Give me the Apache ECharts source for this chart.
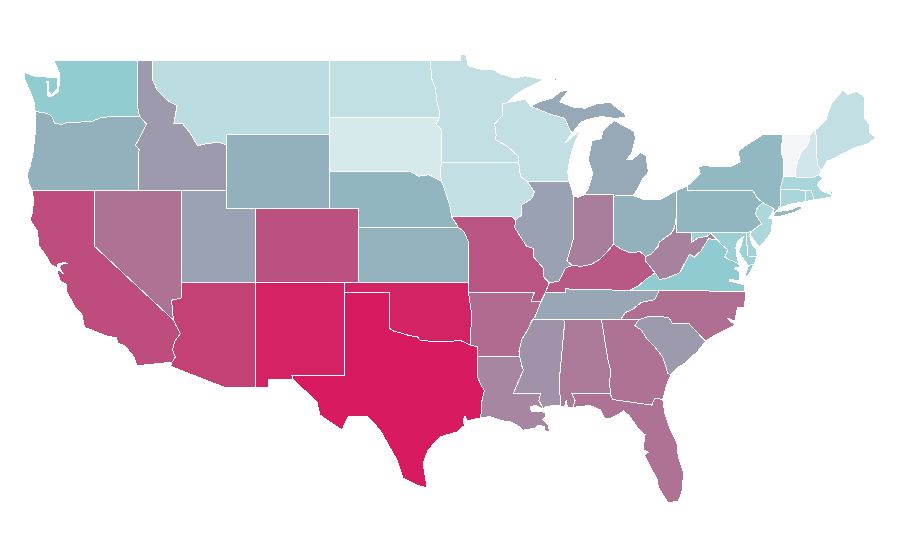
<!DOCTYPE html>
<html>
<head>
<meta charset="utf-8">
<title>US states</title>
<script src="https://cdn.jsdelivr.net/npm/echarts@6/dist/echarts.min.js"></script>
<style>
  html, body { margin: 0; padding: 0; background: #fff; }
  #main { width: 900px; height: 560px; }
  #main path { shape-rendering: crispEdges; }
</style>
</head>
<body>
<div id="main"></div>
<script>
const stateNames = ['Washington','Oregon','California','Idaho','Nevada','Utah','Arizona','Montana','Wyoming','Colorado','New Mexico',
  'North Dakota','South Dakota','Nebraska','Kansas','Oklahoma','Texas','Minnesota','Iowa','Missouri','Arkansas','Louisiana',
  'Wisconsin','Illinois','Michigan','Indiana','Ohio','Kentucky','Tennessee','Mississippi','Alabama','Georgia','Florida',
  'South Carolina','North Carolina','Virginia','West Virginia','Maryland','Delaware','Pennsylvania','New Jersey','New York',
  'Connecticut','Rhode Island','Massachusetts','Vermont','New Hampshire','Maine'];
const stateValues = [9.8,20,51,30,40,26,53,5.6,20,50,58.7,
  5,2.9,18,19.5,58.5,60,4.9,4.9,49,42,35,
  4.9,27,24,37,20,48,25,32,38,40,40,
  30,41,10,36,8.8,8,18,7,17,
  7.4,7.4,7.4,0,3.5,4.9];

// colour stops, evenly spaced over the value range
const colorStops = ['#f3f5f6','#8fcbd0','#93b1bc','#9d9aae','#ae7294','#bb5180','#d81b60'];

// outlines as "west-longitude latitude" pairs
const outlines = {
  'Washington': ['122.72 49,117.03 49,117.04 46.42,116.92 46,118.98 46,119.3 45.93,119.6 45.92,120.2 45.72,120.65 45.74,121.2 45.65,121.7 45.7,122.2 45.58,122.7 45.62,122.8 45.9,123 46.1,123.4 46.2,124 46.27,124.05 46.7,124.15 46.95,124.35 47.35,124.7 48,124.73 48.38,124 48.17,122.5 48.1,122.46 47.54,122.93 47.16,123.13 47.43,123.1 47.9,123.2 47.9,123.19 47.16,122.99 47.05,122.45 47.32,122.32 47.97,122.38 48.4'],
  'Oregon': ['124 46.27,123.4 46.2,123 46.1,122.8 45.9,122.7 45.62,122.2 45.58,121.7 45.7,121.2 45.65,120.65 45.74,120.2 45.72,119.6 45.92,119.3 45.93,118.98 46,116.92 46,116.46 45.6,116.85 44.95,117.2 44.45,116.95 44.2,117.03 43.8,117.03 42,124.21 42,124.4 42.3,124.55 42.85,124.35 43.3,124.15 44,124.05 44.7,123.95 45.5'],
  'California': ['124.21 42,120 42,120 39,114.63 35,114.45 34.7,114.15 34.27,114.5 33.9,114.7 33.4,114.5 33,114.72 32.72,117.12 32.53,117.3 33,117.9 33.6,118.4 33.75,118.5 34.03,119.2 34.15,120.2 34.47,120.65 34.6,120.85 35.35,121.3 35.7,121.9 36.6,121.9 36.95,122.3 37.1,122.5 37.6,122.4 37.7,122.1 37.5,122.35 37.85,122.2 38.02,121.75 38.05,122 38.1,122.45 38.05,122.52 37.83,122.95 38,123.2 38.4,123.75 39,123.85 39.8,124.35 40.4,124.2 40.8,124.1 41.5'],
  'Idaho': ['117.03 49,116.05 49,116.05 48,115.72 47.4,115 46.85,114.38 46.6,114.6 45.6,114 45.6,113.45 45.05,113 44.42,112.3 44.55,111.5 44.6,111.05 44.48,111.05 42,117.03 42,117.03 43.8,116.95 44.2,117.2 44.45,116.85 44.95,116.46 45.6,116.92 46,117.04 46.42'],
  'Nevada': ['120 42,114.05 42,114.05 36.2,114.75 36.07,114.63 35,120 39'],
  'Utah': ['114.05 42,111.05 42,111.05 41,109.05 41,109.05 37,114.05 37'],
  'Arizona': ['114.05 37,109.05 37,109.05 31.33,111.07 31.33,114.82 32.5,114.72 32.72,114.5 33,114.7 33.4,114.5 33.9,114.15 34.27,114.45 34.7,114.63 35,114.75 36.07,114.05 36.2'],
  'Montana': ['116.05 49,104.05 49,104.05 45,111.05 45,111.05 44.48,111.5 44.6,112.3 44.55,113 44.42,113.45 45.05,114 45.6,114.6 45.6,114.38 46.6,115 46.85,115.72 47.4,116.05 48'],
  'Wyoming': ['111.05 45,104.05 45,104.05 41,111.05 41'],
  'Colorado': ['109.05 41,102.05 41,102.05 37,109.05 37'],
  'New Mexico': ['109.05 37,103 37,103.05 32,106.6 32,106.53 31.78,108.2 31.78,108.2 31.33,109.05 31.33'],
  'North Dakota': ['104.05 49,97.23 49,97.1 48,96.85 47.5,96.8 46.9,96.6 46.3,96.56 45.94,104.05 45.94'],
  'South Dakota': ['104.05 45.94,96.56 45.94,96.85 45.6,96.45 45.3,96.45 43.5,96.55 43,96.45 42.5,97.3 42.85,98 42.77,98.5 43,104.05 43'],
  'Nebraska': ['104.05 43,98.5 43,98 42.77,97.3 42.85,96.45 42.5,96.1 41.7,95.9 41.2,95.77 40.58,95.3 40,102.05 40,102.05 41,104.05 41'],
  'Kansas': ['102.05 40,95.3 40,94.9 39.75,94.6 39.15,94.62 37,102.05 37'],
  'Oklahoma': ['103 37,94.62 37,94.62 36.5,94.43 35.39,94.48 33.64,95.2 33.9,95.8 33.85,96.6 33.85,97.2 33.85,97.9 33.9,98.1 34.1,98.6 34.15,99.2 34.3,99.7 34.4,100 34.56,100 36.5,103 36.5'],
  'Texas': ['103 36.5,100 36.5,100 34.56,99.7 34.4,99.2 34.3,98.6 34.15,98.1 34.1,97.9 33.9,97.2 33.85,96.6 33.85,95.8 33.85,95.2 33.9,94.48 33.64,94.04 33.55,94.04 33.02,94.04 32,93.8 31.5,93.55 31.2,93.75 30.5,93.72 30.05,93.85 29.7,94.72 29.55,94.85 29.8,95 29.6,94.9 29.3,95.4 28.95,96.55 28.68,97.37 27.97,97.7 27.27,97.43 25.92,98.2 26.1,99.06 26.46,99.47 27.43,100.62 29.05,101.44 29.76,102.8 29.76,103.2 29.05,104.69 29.86,104.9 30.57,106 31.4,106.53 31.78,106.6 32,103.05 32'],
  'Minnesota': ['97.23 49,95.15 49,95.15 49.38,94.8 49.32,94.65 48.75,93.8 48.55,93 48.55,92.4 48.3,91.5 48.07,90.8 48.2,89.5 48,90.5 47.6,91.3 47.25,92 46.75,92.3 46.68,92.29 46.08,92.85 45.6,92.75 45,92.8 44.75,92 44.4,91.25 43.85,91.22 43.5,96.45 43.5,96.45 45.3,96.85 45.6,96.56 45.94,96.6 46.3,96.8 46.9,96.85 47.5,97.1 48'],
  'Iowa': ['96.45 43.5,91.22 43.5,91.1 42.75,90.65 42.5,90.15 41.9,90.35 41.55,91.05 41.2,91 40.7,91.4 40.4,91.72 40.6,95.77 40.58,95.9 41.2,96.1 41.7,96.45 42.5,96.55 43'],
  'Missouri': ['95.77 40.58,91.72 40.6,91.4 40.4,91.5 40,91.1 39.5,90.7 39,90.2 38.85,90.2 38.4,89.55 37.8,89.5 37.3,89.15 37,89.4 36.5,89.7 36,90.37 36,90.15 36.5,94.62 36.5,94.62 37,94.6 39.15,94.9 39.75,95.3 40'],
  'Arkansas': ['94.62 36.5,90.15 36.5,90.37 36,89.7 36,89.95 35.5,90.1 35.2,90.3 35,90.6 34.5,91 33.95,91.2 33.3,91.15 33,94.04 33.02,94.04 33.55,94.48 33.64,94.43 35.39'],
  'Louisiana': ['94.04 33.02,91.15 33,91 32.5,90.9 32.3,91.6 31,89.73 31,89.85 30.65,89.55 30.2,90.1 30.38,90.45 30.3,90.35 30.05,90 30.03,89.7 30.05,89.4 30,89.4 29.8,89.6 29.6,89.2 29.3,89.15 29,89.4 28.95,89.5 29.25,89.9 29.3,90.1 29.15,90.9 29.05,91.3 29.3,91.8 29.5,92.3 29.55,93.2 29.78,93.85 29.7,93.72 30.05,93.75 30.5,93.55 31.2,93.8 31.5,94.04 32'],
  'Wisconsin': ['92.3 46.68,92 46.75,91.2 46.87,90.8 46.95,90.4 46.55,89.1 46.13,88.1 45.9,87.8 45.35,87.6 45.1,88.1 44.55,87.05 45.27,87.5 44.4,87.75 43.7,87.9 43,87.8 42.5,90.65 42.5,91.1 42.75,91.22 43.5,91.25 43.85,92 44.4,92.8 44.75,92.75 45,92.85 45.6,92.29 46.08'],
  'Illinois': ['90.65 42.5,87.8 42.5,87.55 41.9,87.53 41.7,87.53 39.35,87.95 38.2,87.6 37.95,88.05 37.8,88.5 37.1,89.15 37,89.5 37.3,89.55 37.8,90.2 38.4,90.2 38.85,90.7 39,91.1 39.5,91.5 40,91.4 40.4,91 40.7,91.05 41.2,90.35 41.55,90.15 41.9'],
  'Michigan': ['90.4 46.55,89.8 46.8,88.9 47,88.4 47.35,87.8 47.45,88.2 47.05,88.45 46.8,87.5 46.5,86.7 46.45,85.95 46.68,85 46.77,84.55 46.45,84.1 46.2,83.9 45.95,84.7 45.9,85.6 46,86.5 45.85,87 45.7,87.6 45.1,87.8 45.35,88.1 45.9,89.1 46.13',
    '84.8 41.76,86.8 41.76,86.5 42.1,86.2 42.9,86.5 43.65,86.25 44.7,85.6 44.8,85.55 45.2,85 45.6,84.75 45.78,84.1 45.5,83.4 45.2,83.3 44.85,83.55 44.05,83.9 43.65,83.5 43.7,82.95 44.05,82.6 43.9,82.42 43,82.85 42.6,83.15 42.1,83.45 41.72,84.8 41.7',
    '89.2 47.85,88.5 48.15,88.7 47.95'],
  'Indiana': ['87.53 41.7,87.2 41.63,86.8 41.76,84.8 41.76,84.8 41.7,84.8 39.1,85.2 38.7,85.7 38.3,86.3 38,87 37.9,87.6 37.95,87.95 38.2,87.53 39.35'],
  'Ohio': ['84.8 39.1,84.2 38.8,83.65 38.63,83 38.7,82.6 38.42,82.2 38.6,81.75 39,81.7 39.2,80.85 39.7,80.65 40,80.52 40.63,80.52 41.98,81.7 41.5,82.7 41.5,83.45 41.72,84.8 41.7'],
  'Kentucky': ['89.4 36.5,88.07 36.5,88.07 36.68,86.5 36.65,83.68 36.6,83.1 36.85,82.6 37.2,81.97 37.54,82.6 38.17,82.6 38.42,83 38.7,83.65 38.63,84.2 38.8,84.8 39.1,85.2 38.7,85.7 38.3,86.3 38,87 37.9,87.6 37.95,88.05 37.8,88.5 37.1,89.15 37'],
  'Tennessee': ['90.3 35,88.2 35,85.6 35,84.32 35,84 35.4,83.5 35.57,82.9 35.95,82 36.1,81.68 36.59,83.68 36.6,86.5 36.65,88.07 36.68,88.07 36.5,89.4 36.5,89.7 36,89.95 35.5,90.1 35.2'],
  'Mississippi': ['90.3 35,88.2 35,88.1 34.9,88.45 31.9,88.4 30.35,88.8 30.4,89.4 30.3,89.55 30.2,89.85 30.65,89.73 31,91.6 31,90.9 32.3,91 32.5,91.15 33,91.2 33.3,91 33.95,90.6 34.5'],
  'Alabama': ['88.2 35,85.6 35,85.18 32.87,85 32.3,85.05 31.55,85 31,87.6 31,87.4 30.65,87.52 30.28,87.9 30.25,88 30.65,88.1 30.35,88.4 30.35,88.45 31.9,88.1 34.9'],
  'Georgia': ['85.6 35,83.1 35,83.35 34.7,82.9 34.45,82.55 34,81.95 33.5,81.45 33,81.1 32.1,80.9 32.03,81.15 31.6,81.45 30.72,82 30.75,82.2 30.4,84.86 30.7,85 31,85.05 31.55,85 32.3,85.18 32.87'],
  'Florida': ['87.6 31,85 31,84.86 30.7,82.2 30.4,82 30.75,81.45 30.72,81.3 29.9,80.9 29,80.5 28.4,80.4 27.6,80.05 26.8,80.12 25.8,80.4 25.2,81.1 25.12,81.75 25.95,81.85 26.45,82.2 26.9,82.7 27.7,82.45 27.85,82.8 28,82.65 28.8,83.1 29.1,83.7 29.8,84.1 30.1,84.35 29.95,85.1 29.65,85.4 29.7,85.7 30.15,86.4 30.38,87.52 30.28,87.4 30.65'],
  'South Carolina': ['83.35 34.7,83.1 35,82.4 35.2,81.05 35.15,80.8 34.82,79.67 34.8,78.55 33.85,79.1 33.3,79.9 32.7,80.5 32.4,80.9 32.03,81.1 32.1,81.45 33,81.95 33.5,82.55 34,82.9 34.45'],
  'North Carolina': ['84.32 35,83.1 35,82.4 35.2,81.05 35.15,80.8 34.82,79.67 34.8,78.55 33.85,77.9 34.2,76.55 34.73,77.1 35.1,76.55 34.95,76.4 35.65,75.88 35.65,75.87 36.55,81.68 36.59,82 36.1,82.9 35.95,83.5 35.57,84 35.4'],
  'Virginia': ['83.68 36.6,81.68 36.59,75.87 36.55,75.95 36.9,76.9 37.1,76.9 37.2,76.25 37.1,76.25 37.6,76.6 37.8,76.25 37.85,76.3 38.05,76.9 38.25,77.25 38.4,77.05 38.8,77.5 39.1,77.72 39.32,78.35 39.4,78.85 38.75,79.3 38.4,79.65 38.55,80.3 37.55,81.22 37.25,81.68 37.2,81.97 37.54,82.6 37.2,83.1 36.85',
    '75.95 37.15,75.65 37.95,75.25 38.03,75.6 37.5'],
  'West Virginia': ['82.6 38.17,81.97 37.54,81.68 37.2,81.22 37.25,80.3 37.55,79.65 38.55,79.3 38.4,78.85 38.75,78.35 39.4,77.72 39.32,78.2 39.68,78.45 39.52,79.05 39.45,79.48 39.2,79.48 39.72,80.52 39.72,80.52 40.63,80.65 40,80.85 39.7,81.7 39.2,81.75 39,82.2 38.6,82.6 38.42'],
  'Maryland': ['79.48 39.72,75.79 39.72,75.7 38.46,75.05 38.45,75.25 38.03,75.65 37.95,75.95 38.25,76.3 38.7,76.15 39,76 39.5,76.4 39.25,76.5 38.9,76.4 38.3,76.3 38.05,76.9 38.25,77.25 38.4,77.05 38.8,77.5 39.1,77.72 39.32,78.2 39.68,78.45 39.52,79.05 39.45,79.48 39.2'],
  'Delaware': ['75.79 39.72,75.42 39.8,75.55 39.5,75.4 39.1,75.1 38.8,75.05 38.45,75.7 38.46'],
  'Pennsylvania': ['80.52 41.98,79.76 42.27,79.76 42,75.35 42,75.05 41.6,74.7 41.36,75.1 41,75.15 40.7,74.75 40.2,75.42 39.8,75.79 39.72,79.48 39.72,80.52 39.72,80.52 40.63'],
  'New Jersey': ['74.7 41.36,73.9 41,74.25 40.5,74 40.45,74.1 39.75,74.4 39.4,74.9 38.93,75.2 39.25,75.55 39.6,75.42 39.8,74.75 40.2,75.15 40.7,75.1 41'],
  'New York': ['79.76 42.27,79.76 42,75.35 42,75.05 41.6,74.7 41.36,73.9 41,74 40.7,73.65 41,73.48 41.2,73.5 42.05,73.27 42.75,73.25 43.6,73.4 44,73.34 45.01,74.7 45,75.8 44.45,76.35 44.1,76.2 43.55,76.8 43.3,77.6 43.27,78.7 43.35,79.05 43.27,78.9 42.9',
    '74.03 40.6,73.75 40.85,72.7 40.97,72.3 41.15,71.87 41.07,72.5 40.83,73.5 40.6'],
  'Connecticut': ['73.65 41,73.48 41.2,73.5 42.05,71.8 42.02,71.8 41.4,72.9 41.25'],
  'Rhode Island': ['71.8 42.02,71.38 42.02,71.2 41.5,71.8 41.4'],
  'Massachusetts': ['73.5 42.05,73.27 42.75,72.46 42.73,71.3 42.7,70.85 42.87,70.6 42.65,71 42.3,70.6 41.95,70.05 41.8,70.25 42.07,69.95 41.95,70 41.65,70.65 41.55,71.2 41.5,71.38 42.02,71.8 42.02'],
  'Vermont': ['73.34 45.01,71.5 45.01,71.55 44.55,72.05 44.1,72.3 43.6,72.45 43.1,72.46 42.73,73.27 42.75,73.25 43.6,73.4 44'],
  'New Hampshire': ['71.5 45.01,71.08 45.3,70.98 43.4,70.7 43.07,70.85 42.87,71.3 42.7,72.46 42.73,72.45 43.1,72.3 43.6,72.05 44.1,71.55 44.55'],
  'Maine': ['71.08 45.3,70.4 45.8,70.25 46.2,70 46.7,69.23 47.45,68.9 47.2,68.3 47.35,67.8 47.07,67.78 45.9,67.45 45.6,67.45 45.15,67 44.85,67.6 44.5,68.5 44.3,69 44.1,69.8 43.75,70.3 43.6,70.7 43.07,70.98 43.4']
};

function toRing(text) {
  const ring = text.split(',').map(function (pair) {
    const p = pair.trim().split(' ');
    return [-parseFloat(p[0]), parseFloat(p[1])];
  });
  ring.push(ring[0]);
  return ring;
}

const usa = {
  type: 'FeatureCollection',
  features: stateNames.map(function (name) {
    return {
      type: 'Feature',
      properties: { name: name },
      geometry: {
        type: 'MultiPolygon',
        coordinates: outlines[name].map(function (text) { return [toRing(text)]; })
      }
    };
  })
};
echarts.registerMap('usa', usa);

const chart = echarts.init(document.getElementById('main'), null, { renderer: 'svg' });
chart.setOption({
  backgroundColor: '#fff',
  animation: false,
  visualMap: {
    show: false,
    min: 0,
    max: 60,
    inRange: { color: colorStops }
  },
  series: [{
    type: 'map',
    map: 'usa',
    left: 0,
    top: 0,
    width: 900,
    height: 560,
    roam: false,
    silent: true,
    aspectScale: 14.75 / 18.5,
    boundingCoords: [[-126.386, 52.297], [-65.369, 22.027]],
    label: { show: false },
    itemStyle: { borderColor: '#fff', borderWidth: 1 },
    data: stateNames.map(function (name, i) {
      return { name: name, value: stateValues[i] };
    })
  }]
});
</script>
</body>
</html>
